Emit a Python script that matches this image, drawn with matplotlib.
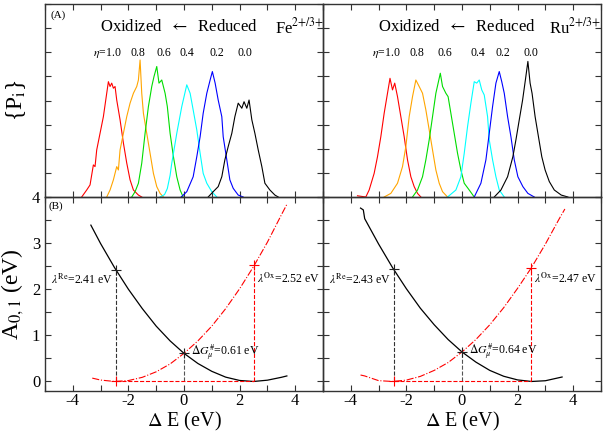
import matplotlib
matplotlib.use("Agg")
import matplotlib.pyplot as plt
from matplotlib.ticker import MultipleLocator, NullFormatter

plt.rcParams['font.family'] = ['Liberation Serif', 'DejaVu Serif']
plt.rcParams['mathtext.fontset'] = 'stix'
plt.rcParams['axes.unicode_minus'] = False

# ---------------- data: panel A (distributions) ----------------
eta_labels = [r"$\eta$=1.0", "0.8", "0.6", "0.4", "0.2", "0.0"]
colors = ["#ff0000", "#ffa500", "#00dd00", "#00ffff", "#0000ff", "#000000"]

# Fe 2+/3+
fe_x_10 = [-3.68, -3.50, -3.38, -3.26, -3.20, -3.14, -3.02, -2.90, -2.78, -2.72, -2.66, -2.60, -2.54, -2.48, -2.42, -2.30, -2.18, -2.06, -1.94, -1.82, -1.64, -1.52]
fe_y_10 = [0.0, 0.29, 0.50, 1.33, 1.26, 1.95, 2.64, 3.33, 4.30, 4.78, 4.58, 4.72, 4.51, 4.58, 4.02, 3.20, 2.24, 1.41, 0.71, 0.29, 0.08, 0.0]
fe_x_08 = [-2.78, -2.66, -2.54, -2.42, -2.36, -2.30, -2.18, -2.06, -1.94, -1.82, -1.70, -1.64, -1.58, -1.52, -1.46, -1.34, -1.22, -1.10, -0.98, -0.86, -0.74]
fe_y_08 = [0.0, 0.29, 0.71, 1.26, 1.12, 1.95, 2.64, 3.33, 3.89, 4.30, 4.58, 4.85, 5.68, 4.30, 3.47, 2.64, 1.81, 0.98, 0.43, 0.15, 0.0]
fe_x_06 = [-1.88, -1.76, -1.64, -1.52, -1.40, -1.28, -1.16, -1.08, -0.98, -0.90, -0.80, -0.68, -0.60, -0.50, -0.38, -0.26, -0.14, -0.03]
fe_y_06 = [0.0, 0.22, 0.57, 1.40, 2.64, 3.75, 4.58, 4.99, 5.41, 4.72, 4.85, 4.30, 3.75, 2.64, 1.67, 0.84, 0.29, 0.0]
fe_x_04 = [-0.86, -0.70, -0.60, -0.50, -0.44, -0.26, -0.08, 0.10, 0.22, 0.33, 0.46, 0.58, 0.69, 0.82, 1.00, 1.18]
fe_y_04 = [0.0, 0.10, 0.35, 0.90, 1.40, 2.64, 3.75, 4.65, 4.30, 3.61, 2.78, 1.81, 0.98, 0.57, 0.22, 0.0]
fe_x_02 = [-0.10, 0.10, 0.33, 0.46, 0.58, 0.69, 0.82, 0.94, 1.02, 1.12, 1.23, 1.36, 1.41, 1.54, 1.65, 1.77, 1.95, 2.13]
fe_y_02 = [0.0, 0.22, 0.84, 1.67, 2.50, 3.47, 4.30, 4.85, 5.20, 4.72, 4.02, 3.33, 2.50, 1.54, 0.71, 0.36, 0.08, 0.0]
fe_x_00 = [0.87, 1.05, 1.23, 1.36, 1.47, 1.59, 1.72, 1.83, 1.95, 2.08, 2.16, 2.26, 2.34, 2.44, 2.55, 2.67, 2.80, 2.91, 3.09, 3.27, 3.39]
fe_y_00 = [0.0, 0.22, 0.43, 0.84, 1.54, 2.09, 2.64, 3.33, 3.89, 3.68, 3.95, 3.68, 4.02, 3.20, 2.64, 1.95, 1.26, 0.57, 0.29, 0.08, 0.0]
fe_eta_x = [-2.77, -1.65, -0.74, 0.12, 1.18, 2.19]

# Ru 2+/3+
ru_x_10 = [-3.76, -3.46, -3.34, -3.16, -3.04, -2.92, -2.80, -2.68, -2.59, -2.50, -2.42, -2.32, -2.20, -2.08, -1.96, -1.84, -1.72, -1.60, -1.48]
ru_y_10 = [0.05, 0.0, 0.29, 0.98, 1.67, 2.50, 3.47, 4.30, 4.92, 4.44, 4.72, 4.16, 3.33, 2.50, 1.54, 0.84, 0.43, 0.15, 0.0]
ru_x_08 = [-2.80, -2.56, -2.32, -2.14, -2.02, -1.90, -1.78, -1.66, -1.54, -1.42, -1.30, -1.18, -1.06, -0.94, -0.82, -0.70, -0.52]
ru_y_08 = [0.0, 0.15, 0.57, 1.26, 2.09, 3.33, 4.16, 4.85, 4.58, 4.30, 3.61, 2.78, 1.95, 1.12, 0.57, 0.22, 0.0]
ru_x_06 = [-1.78, -1.60, -1.42, -1.30, -1.18, -1.06, -0.94, -0.78, -0.70, -0.58, -0.50, -0.40, -0.28, -0.16, -0.04, 0.08, 0.26, 0.44]
ru_y_06 = [0.0, 0.29, 0.84, 1.54, 2.37, 3.33, 4.30, 5.13, 4.58, 4.30, 4.16, 3.47, 2.64, 1.81, 1.12, 0.57, 0.29, 0.0]
ru_x_04 = [-0.52, -0.22, -0.04, 0.08, 0.20, 0.32, 0.44, 0.53, 0.62, 0.71, 0.80, 0.92, 0.98, 1.10, 1.22, 1.34, 1.52]
ru_y_04 = [0.0, 0.29, 0.84, 1.81, 2.92, 3.89, 4.78, 4.72, 4.85, 4.44, 4.23, 3.33, 2.37, 1.54, 0.84, 0.29, 0.0]
ru_x_02 = [0.44, 0.68, 0.86, 0.98, 1.10, 1.22, 1.34, 1.43, 1.52, 1.64, 1.76, 1.88, 2.01, 2.19, 2.37, 2.60]
ru_y_02 = [0.0, 0.57, 1.54, 2.64, 3.75, 4.72, 5.20, 4.78, 4.30, 3.33, 2.50, 1.54, 0.84, 0.43, 0.15, 0.0]
ru_x_00 = [1.16, 1.40, 1.64, 1.83, 1.94, 2.06, 2.18, 2.28, 2.37, 2.45, 2.52, 2.63, 2.75, 2.87, 2.99, 3.14, 3.32, 3.57, 3.81]
ru_y_00 = [0.0, 0.29, 0.84, 1.67, 2.37, 3.20, 4.02, 4.85, 5.62, 4.72, 4.30, 3.33, 2.50, 1.67, 1.12, 0.64, 0.29, 0.08, 0.0]
ru_eta_x = [-2.74, -1.62, -0.61, 0.56, 1.46, 2.48]

# ---------------- data: panel B (free energy curves) ----------------
fe_a0_x = [-3.35, -3.0, -2.5, -2.0, -1.5, -1.0, -0.5, 0.0, 0.5, 1.0, 1.5, 2.0, 2.5, 3.0, 3.5, 3.7]
fe_a0_y = [3.39, 2.99, 2.47, 2.00, 1.58, 1.20, 0.88, 0.61, 0.39, 0.22, 0.094, 0.022, 0.0, 0.028, 0.09, 0.12]
fe_a1_x = [-3.3, -3.0, -2.5, -2.0, -1.5, -1.0, -0.5, 0.0, 0.5, 1.0, 1.5, 2.0, 2.5, 3.0, 3.5, 3.7]
fe_a1_y = [0.073, 0.031, 0.0, 0.02, 0.09, 0.21, 0.38, 0.61, 0.88, 1.20, 1.58, 2.01, 2.49, 3.02, 3.61, 3.84]
ru_a0_x = [-3.65, -3.55, -3.5, -3.0, -2.5, -2.0, -1.5, -1.0, -0.5, 0.0, 0.5, 1.0, 1.5, 2.0, 2.5, 3.0, 3.6]
ru_a0_y = [3.76, 3.72, 3.53, 2.98, 2.47, 2.01, 1.59, 1.23, 0.91, 0.64, 0.42, 0.24, 0.113, 0.034, 0.0, 0.016, 0.097]
ru_a1_x = [-3.65, -3.5, -3.0, -2.5, -2.0, -1.5, -1.0, -0.5, 0.0, 0.5, 1.0, 1.5, 2.0, 2.5, 3.0, 3.5, 3.7]
ru_a1_y = [0.14, 0.12, 0.018, 0.0, 0.03, 0.11, 0.24, 0.41, 0.64, 0.91, 1.23, 1.60, 2.02, 2.47, 2.98, 3.53, 3.74]

fe_lam_re = (-2.45, 2.41)
fe_lam_ox = (2.52, 2.52)
fe_dg = (0.0, 0.61)
ru_lam_re = (-2.46, 2.43)
ru_lam_ox = (2.48, 2.47)
ru_dg = (0.0, 0.64)

fe_labels = [r"$\lambda^{\mathrm{Re}}$=2.41 eV", r"$\lambda^{\mathrm{Ox}}$=2.52 eV", r"$\Delta G^{\#}_{\mu}$=0.61 eV"]
ru_labels = [r"$\lambda^{\mathrm{Re}}$=2.43 eV", r"$\lambda^{\mathrm{Ox}}$=2.47 eV", r"$\Delta G^{\#}_{\mu}$=0.64 eV"]

# ---------------- figure ----------------
W, H = 605, 433
fig = plt.figure(figsize=(W / 100, H / 100), dpi=100)

def frac(x0, y0, x1, y1):
    return [x0 / W, 1 - y1 / H, (x1 - x0) / W, (y1 - y0) / H]

axA_fe = fig.add_axes(frac(45, 4, 323, 197))
axA_ru = fig.add_axes(frac(323, 4, 601, 197))
axB_fe = fig.add_axes(frac(45, 197, 323, 390.7))
axB_ru = fig.add_axes(frac(323, 197, 601, 390.7))

def style(ax, ylabels, top_panel):
    ax.set_facecolor('none')
    ax.set_xlim(-5, 5)
    for s in ax.spines.values():
        s.set_linewidth(1.0)
        s.set_color("#333333")
    ax.tick_params(which='both', direction='in', top=True, right=True,
                   length=4, width=0.8, labelsize=12, color="#333333")
    if top_panel:
        ax.xaxis.set_major_locator(MultipleLocator(1))
        ax.yaxis.set_major_locator(MultipleLocator(1))
        ax.set_ylim(0, 8)
        ax.xaxis.set_major_formatter(NullFormatter())
        ax.yaxis.set_major_formatter(NullFormatter())
    else:
        ax.set_ylim(-0.2, 4)
        ax.xaxis.set_major_locator(MultipleLocator(2))
        ax.xaxis.set_minor_locator(MultipleLocator(1))
        ax.yaxis.set_major_locator(MultipleLocator(1))
        ax.yaxis.set_minor_locator(MultipleLocator(0.5))
        ax.tick_params(which='minor', length=4)
        ax.tick_params(axis='x', which='major', pad=2)
        if not ylabels:
            ax.yaxis.set_major_formatter(NullFormatter())

style(axA_fe, False, True)
style(axA_ru, False, True)
style(axB_fe, True, False)
style(axB_ru, False, False)

def panelA(ax, xs, ys, eta_x, ion_x, ion_text):
    for x, y, c in zip(xs, ys, colors):
        ax.plot(x, y, color=c, lw=0.8)
    for ex, lab in zip(eta_x, eta_labels):
        ax.text(ex, 5.98, lab, ha='center', va='center', fontsize=8.5)
    ax.text(-3.02, 7.05, r"Oxidized  $\leftarrow$  Reduced", ha='left', va='center', fontsize=12)
    ax.text(ion_x, 7.05, ion_text, ha='left', va='center', fontsize=12)

panelA(axA_fe, [fe_x_10, fe_x_08, fe_x_06, fe_x_04, fe_x_02, fe_x_00],
       [fe_y_10, fe_y_08, fe_y_06, fe_y_04, fe_y_02, fe_y_00], fe_eta_x,
       3.27, r"Fe$^{\mathrm{2{+}/3{+}}}$")
panelA(axA_ru, [ru_x_10, ru_x_08, ru_x_06, ru_x_04, ru_x_02, ru_x_00],
       [ru_y_10, ru_y_08, ru_y_06, ru_y_04, ru_y_02, ru_y_00], ru_eta_x,
       3.13, r"Ru$^{\mathrm{2{+}/3{+}}}$")
axA_fe.text(-4.8, 7.55, "(A)", ha='left', va='center', fontsize=8)
axA_fe.set_ylabel(r"{P$_{\mathrm{i}}$}", fontsize=17, labelpad=9)

def panelB(ax, a0x, a0y, a1x, a1y, lre, lox, dg, labels):
    ax.plot(a0x, a0y, color='black', lw=0.9)
    ax.plot(a1x, a1y, color='red', lw=0.8, ls='-.')
    # guide lines
    ax.plot([lre[0], lre[0]], [0, lre[1]], color='#333333', lw=0.8, ls='--')
    ax.plot([dg[0], dg[0]], [0, dg[1]], color='#555555', lw=0.8, ls='--')
    ax.plot([lox[0], lox[0]], [0, lox[1]], color='red', lw=0.8, ls='--')
    ax.plot([lre[0], lox[0]], [0, 0], color='red', lw=0.8, ls='--')
    ax.plot([lre[0], dg[0]], [lre[1], dg[1]], ls='none', marker='+', color='#222222', ms=7, mew=0.8)
    ax.plot([lox[0], lre[0]], [lox[1], 0], ls='none', marker='+', color='red', ms=7, mew=0.8)
    ax.text(lre[0] - 0.08, 2.2, labels[0], ha='right', va='center', fontsize=8.5)
    ax.text(lox[0] + 0.12, 2.22, labels[1], ha='left', va='center', fontsize=8.5)
    ax.text(dg[0] + 0.25, dg[1] + 0.03, labels[2], ha='left', va='center', fontsize=8.5)
    ax.set_xlabel(r"$\Delta$ E (eV)", fontsize=14.5, labelpad=0)

panelB(axB_fe, fe_a0_x, fe_a0_y, fe_a1_x, fe_a1_y, fe_lam_re, fe_lam_ox, fe_dg, fe_labels)
panelB(axB_ru, ru_a0_x, ru_a0_y, ru_a1_x, ru_a1_y, ru_lam_re, ru_lam_ox, ru_dg, ru_labels)
axB_fe.text(-4.86, 3.81, "(B)", ha='left', va='center', fontsize=8)
axB_fe.set_ylabel(r"A$_{0,1}$ (eV)", fontsize=17, labelpad=4)

fig.savefig("out.png", dpi=100)
